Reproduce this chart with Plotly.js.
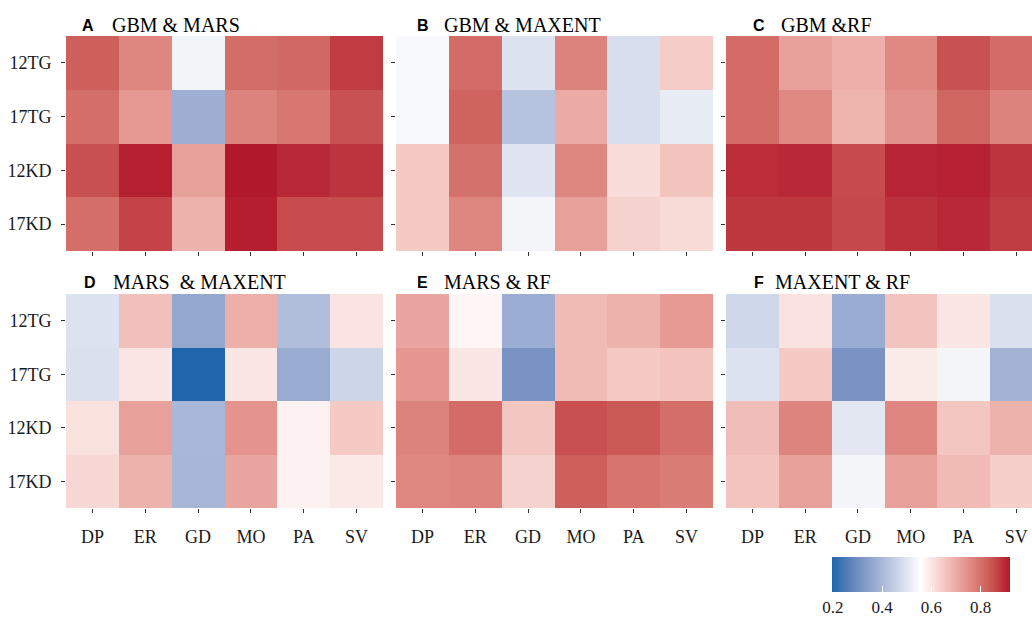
<!DOCTYPE html>
<html>
<head>
<meta charset="utf-8">
<script src="https://cdn.plot.ly/plotly-3.0.1.min.js"></script>
<style>html,body{margin:0;padding:0;background:#fff;}#chart{width:1032px;height:617px;}</style>
</head>
<body>
<div id="chart"></div>
<script>
// ---- data ----
const xCats = ['DP', 'ER', 'GD', 'MO', 'PA', 'SV'];
const yCats = ['12TG', '17TG', '12KD', '17KD'];
const colorTicks = [0.2, 0.4, 0.6, 0.8];

const gbmMars = [
  [0.830, 0.764, 0.533, 0.808, 0.815, 0.876],
  [0.805, 0.732, 0.380, 0.770, 0.790, 0.848],
  [0.850, 0.910, 0.720, 0.920, 0.900, 0.885],
  [0.805, 0.866, 0.690, 0.912, 0.855, 0.855]
];
const gbmMaxent = [
  [0.545, 0.810, 0.493, 0.770, 0.485, 0.645],
  [0.545, 0.825, 0.424, 0.703, 0.485, 0.515],
  [0.650, 0.800, 0.500, 0.764, 0.616, 0.660],
  [0.650, 0.764, 0.535, 0.720, 0.635, 0.620]
];
const gbmRf = [
  [0.810, 0.720, 0.695, 0.760, 0.848, 0.810],
  [0.810, 0.760, 0.685, 0.745, 0.820, 0.770],
  [0.893, 0.900, 0.856, 0.905, 0.907, 0.885],
  [0.880, 0.880, 0.858, 0.890, 0.900, 0.875]
];
const marsMaxent = [
  [0.493, 0.665, 0.360, 0.695, 0.413, 0.605],
  [0.490, 0.600, 0.196, 0.600, 0.370, 0.465],
  [0.610, 0.720, 0.400, 0.740, 0.580, 0.650],
  [0.625, 0.690, 0.395, 0.710, 0.580, 0.595]
];
const marsRf = [
  [0.710, 0.573, 0.375, 0.675, 0.690, 0.730],
  [0.735, 0.600, 0.310, 0.675, 0.650, 0.660],
  [0.770, 0.810, 0.655, 0.850, 0.838, 0.805],
  [0.762, 0.768, 0.635, 0.830, 0.795, 0.780]
];
const maxentRf = [
  [0.470, 0.607, 0.372, 0.660, 0.600, 0.490],
  [0.495, 0.650, 0.310, 0.590, 0.535, 0.385],
  [0.670, 0.768, 0.505, 0.765, 0.655, 0.690],
  [0.660, 0.720, 0.535, 0.720, 0.675, 0.640]
];

const panelLetters = ['A', 'B', 'C', 'D', 'E', 'F'];
const panelTitles = ['GBM & MARS', 'GBM & MAXENT', 'GBM &RF', 'MARS\u00a0 & MAXENT', 'MARS & RF', 'MAXENT & RF'];
const panelData = [gbmMars, gbmMaxent, gbmRf, marsMaxent, marsRf, maxentRf];

// ---- layout geometry (pixels) ----
const W = 1032, H = 617;
const colX = [[66, 383], [396, 713], [726, 1032]];
const rowY = [[36, 251], [294, 508]];
const letterX = [80, 415, 751, 82, 415, 752];
const titleX = [110, 442, 779, 111, 442, 773];
const titleY = [25, 25, 25, 282, 282, 282];

const serif = 'Liberation Serif, Times New Roman, serif';
const sans = 'Liberation Sans, Arial, sans-serif';

const traces = [];
const layout = {
  width: W, height: H,
  margin: {l: 0, r: 0, t: 0, b: 0, autoexpand: false},
  paper_bgcolor: '#ffffff', plot_bgcolor: '#ffffff',
  showlegend: false,
  annotations: [],
  coloraxis: {
    cmin: 0.196, cmax: 0.92,
    colorscale: [
      [0, '#2166ac'], [0.125, 'rgb(105,136,189)'], [0.25, 'rgb(157,174,211)'],
      [0.375, 'rgb(206,214,233)'], [0.5, '#ffffff'], [0.625, 'rgb(245,202,197)'],
      [0.75, 'rgb(228,149,142)'], [0.875, 'rgb(206,96,91)'], [1, '#b2182b']
    ],
    colorbar: {
      orientation: 'h',
      x: 832 / W, xanchor: 'left',
      y: 1 - 557 / H, yanchor: 'top',
      len: 178, lenmode: 'pixels',
      thickness: 35, thicknessmode: 'pixels',
      xpad: 0, ypad: 0,
      outlinewidth: 0,
      tickvals: colorTicks,
      ticktext: colorTicks.map(v => v.toFixed(1)),
      ticks: 'inside', ticklen: 6, tickcolor: '#ffffff', tickwidth: 1,
      ticklabelstandoff: 0,
      tickfont: {family: serif, size: 17, color: '#1a1a1a'}
    }
  }
};

for (let i = 0; i < 6; i++) {
  const r = Math.floor(i / 3), c = i % 3;
  const sfx = i === 0 ? '' : String(i + 1);
  traces.push({
    type: 'heatmap',
    x: xCats, y: yCats, z: panelData[i],
    coloraxis: 'coloraxis',
    xaxis: 'x' + sfx, yaxis: 'y' + sfx,
    hoverongaps: false
  });
  const xr = c === 2 ? [-0.5, 5.3] : [-0.5, 5.5];
  layout['xaxis' + sfx] = {
    domain: [colX[c][0] / W, colX[c][1] / W],
    anchor: 'y' + sfx,
    type: 'category', categoryorder: 'array', categoryarray: xCats,
    range: xr, fixedrange: true,
    showgrid: false, zeroline: false, showline: false,
    ticks: 'outside', ticklen: 4, tickwidth: 1, tickcolor: '#333333',
    showticklabels: r === 1,
    ticklabelstandoff: 8,
    tickfont: {family: serif, size: 18, color: '#1a1a1a'}
  };
  layout['yaxis' + sfx] = {
    domain: [1 - rowY[r][1] / H, 1 - rowY[r][0] / H],
    anchor: 'x' + sfx,
    type: 'category', categoryorder: 'array', categoryarray: yCats,
    range: [3.5, -0.5], fixedrange: true,
    showgrid: false, zeroline: false, showline: false,
    ticks: 'outside', ticklen: 4, tickwidth: 1, tickcolor: '#333333',
    showticklabels: c === 0,
    ticklabelstandoff: 6,
    tickfont: {family: serif, size: 18, color: '#1a1a1a'}
  };
  layout.annotations.push({
    xref: 'paper', yref: 'paper', x: letterX[i] / W, y: 1 - titleY[i] / H,
    xanchor: 'left', yanchor: 'middle', showarrow: false,
    text: '<b>' + panelLetters[i] + '</b>',
    font: {family: sans, size: 16, color: '#000000'}
  });
  layout.annotations.push({
    xref: 'paper', yref: 'paper', x: titleX[i] / W, y: 1 - titleY[i] / H,
    xanchor: 'left', yanchor: 'middle', showarrow: false,
    text: panelTitles[i],
    font: {family: serif, size: 20, color: '#000000'}
  });
}

Plotly.newPlot('chart', traces, layout, {staticPlot: true, displayModeBar: false});
</script>
</body>
</html>
